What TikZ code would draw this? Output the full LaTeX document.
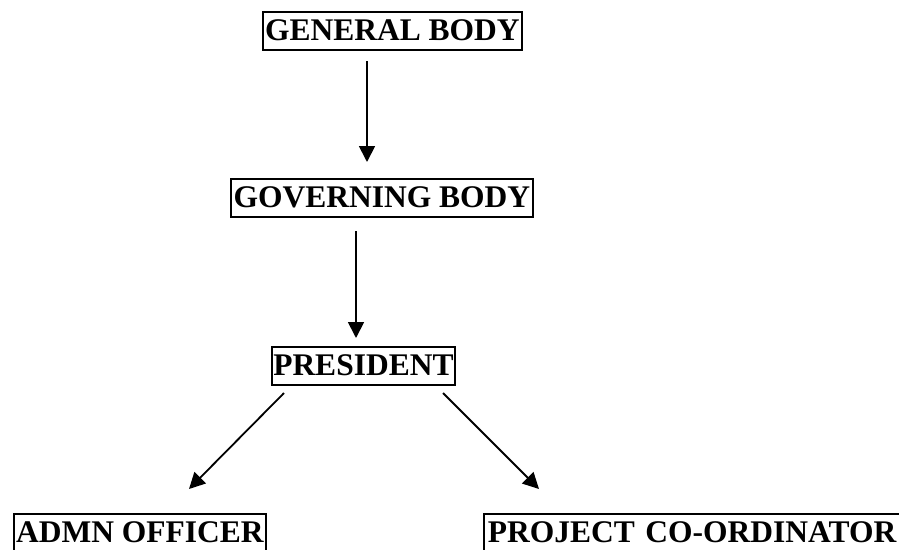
\documentclass[tikz,border=0pt]{standalone}
\usepackage{fontspec}
\setmainfont{Liberation Serif}
\usetikzlibrary{arrows.meta}
\begin{document}
\begin{tikzpicture}[x=1pt,y=-1pt,
  box/.style={draw,line width=1.8pt,rectangle,anchor=north west,inner xsep=0pt,inner ysep=7.5pt,
    text height=21pt,text depth=2pt,align=center,font=\fontsize{31.5}{31.5}\selectfont\bfseries},
  arr/.style={line width=1.8pt,-{Triangle[length=16pt,width=16pt]}}]
\useasboundingbox (0,0) rectangle (899,549);
\clip (0,0) rectangle (899,549);
\node[box,minimum width=259pt] (gb) at (262,11) {GENERAL BODY};
\node[box,minimum width=302pt] (gov) at (230,178) {GOVERNING BODY};
\node[box,minimum width=183pt] (pres) at (271,346) {PRESIDENT};
\node[box,minimum width=252pt] (admn) at (13,513) {ADMN OFFICER};
\node[box,text width=520pt,align=left] (proj) at (483,513) {\hspace*{4pt}PROJECT CO-ORDINATOR};
\coordinate (a1s) at (367,61);
\coordinate (a1e) at (367,162);
\coordinate (a2s) at (356,231);
\coordinate (a2e) at (356,338);
\coordinate (a3s) at (284,393);
\coordinate (a3e) at (189,489);
\coordinate (a4s) at (443,393);
\coordinate (a4e) at (539,489);
\draw[arr] (a1s) -- (a1e);
\draw[arr] (a2s) -- (a2e);
\draw[arr] (a3s) -- (a3e);
\draw[arr] (a4s) -- (a4e);
\end{tikzpicture}
\end{document}
